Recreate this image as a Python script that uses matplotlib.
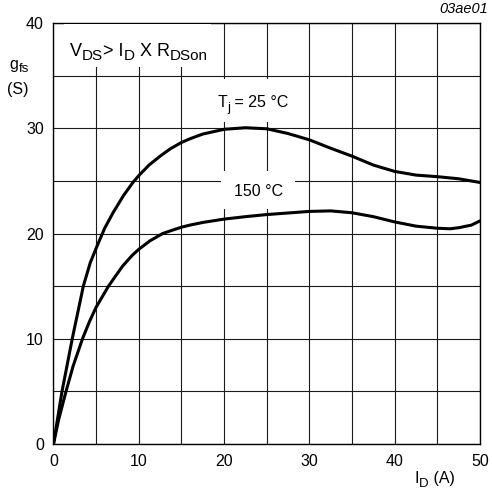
import matplotlib
matplotlib.use('Agg')
import matplotlib.pyplot as plt
from matplotlib.patches import Rectangle
from matplotlib.transforms import offset_copy

plt.rcParams['font.family'] = ['Liberation Sans', 'DejaVu Sans']

# drain current I_D (A) vs forward transconductance g_fs (S)
id_25 = [0, 1.0, 2.2, 3.5, 4.3, 5.0, 6.0, 7.0, 8.2, 9.36, 10, 11.2, 12.5, 13.7, 15, 16,
         17.5, 20, 22.5, 25, 27.5, 30, 32.5, 35, 37.5, 40, 42.5, 45, 47.5, 50]
gfs_25 = [0, 5.0, 10.0, 15.0, 17.2, 18.6, 20.5, 22.0, 23.6, 24.9, 25.5, 26.5, 27.35, 28.05, 28.65, 29.0,
          29.45, 29.9, 30.05, 29.95, 29.5, 28.9, 28.1, 27.35, 26.5, 25.9, 25.55, 25.4, 25.2, 24.85]

id_150 = [0, 0.6, 1.47, 2.3, 3.4, 4.2, 5.0, 6.45, 7.4, 8.1, 9.2, 10, 11.3, 12.8, 13.7, 15, 16,
          17.5, 20, 22.5, 25, 27.5, 30, 32.5, 35, 37.5, 40, 42.5, 45, 46.5, 47.5, 49, 50]
gfs_150 = [0, 2.3, 5.0, 7.4, 10.0, 11.6, 13.0, 15.0, 16.1, 16.9, 17.9, 18.5, 19.3, 20.0, 20.25, 20.6, 20.8,
           21.05, 21.37, 21.6, 21.8, 21.95, 22.1, 22.15, 21.97, 21.6, 21.1, 20.7, 20.5, 20.45, 20.55, 20.8, 21.2]

x_ticks = [0, 10, 20, 30, 40, 50]
y_ticks = [0, 10, 20, 30, 40]

fig = plt.figure(figsize=(4.92, 4.98), dpi=100)
ax = fig.add_axes([0.1087, 0.1084, 0.8669, 0.8454])
renderer = fig.canvas.get_renderer()


def rich_text(x, y, pieces, transform, **kw):
    # pieces: (text, fontsize, baseline shift in points)
    dx = 0
    for s, size, dy in pieces:
        tr = offset_copy(transform, fig=fig, x=dx, y=dy, units='points')
        t = fig.text(x, y, s, transform=tr, fontsize=size, ha='left', va='baseline', zorder=6, **kw)
        dx += t.get_window_extent(renderer).width * 72 / fig.dpi


ax.plot(id_25, gfs_25, color='black', lw=2.2, zorder=5, solid_capstyle='round', solid_joinstyle='round')
ax.plot(id_150, gfs_150, color='black', lw=2.2, zorder=5, solid_capstyle='round', solid_joinstyle='round')

ax.set_xlim(0, 50)
ax.set_ylim(0, 40)
ax.set_xticks(range(0, 51, 5))
ax.set_yticks(range(0, 41, 5))
ax.set_xticklabels([str(v) if v in x_ticks else '' for v in range(0, 51, 5)])
ax.set_yticklabels([str(v) if v in y_ticks else '' for v in range(0, 41, 5)])
ax.tick_params(length=0, labelsize=11.5, pad=7)
ax.grid(True, color='0.1', lw=0.8)
ax.set_axisbelow(True)
for s in ax.spines.values():
    s.set_linewidth(1.0)

# white patches behind the labels, cutting the grid
for (x0, y0, w, h) in [(1.2, 35.8, 17.3, 4.1), (17.3, 30.6, 11.5, 4.1), (19.6, 22.3, 8.7, 3.6)]:
    ax.add_patch(Rectangle((x0, y0), w, h, facecolor='white', edgecolor='none', zorder=3))

main, sub, sh = 11.5, 9.5, -2.5
rich_text(1.95, 36.9, [('V', 13, 0), ('DS', 11, -2.8), ('> I', 13, 0), ('D', 11, -2.8),
                       (' X R', 13, 0), ('DSon', 11, -2.8)], ax.transData)
rich_text(19.2, 32.0, [('T', main, 0), ('j', sub, sh), (' = 25 °C', main, 0)], ax.transData)
ax.text(24.0, 23.6, '150 °C', fontsize=11.5, va='baseline', ha='center', zorder=6)

rich_text(0.02, 0.862, [('g', main, 0), ('fs', sub, sh)], fig.transFigure)
rich_text(0.014, 0.812, [('(S)', main, 0)], fig.transFigure)
rich_text(0.843, 0.030, [('I', main, 0), ('D', sub, sh), (' (A)', main, 0)], fig.transFigure)
fig.text(0.992, 0.981, '03ae01', fontsize=10.5, style='italic', ha='right', va='center')

fig.savefig('out.png', dpi=100)
